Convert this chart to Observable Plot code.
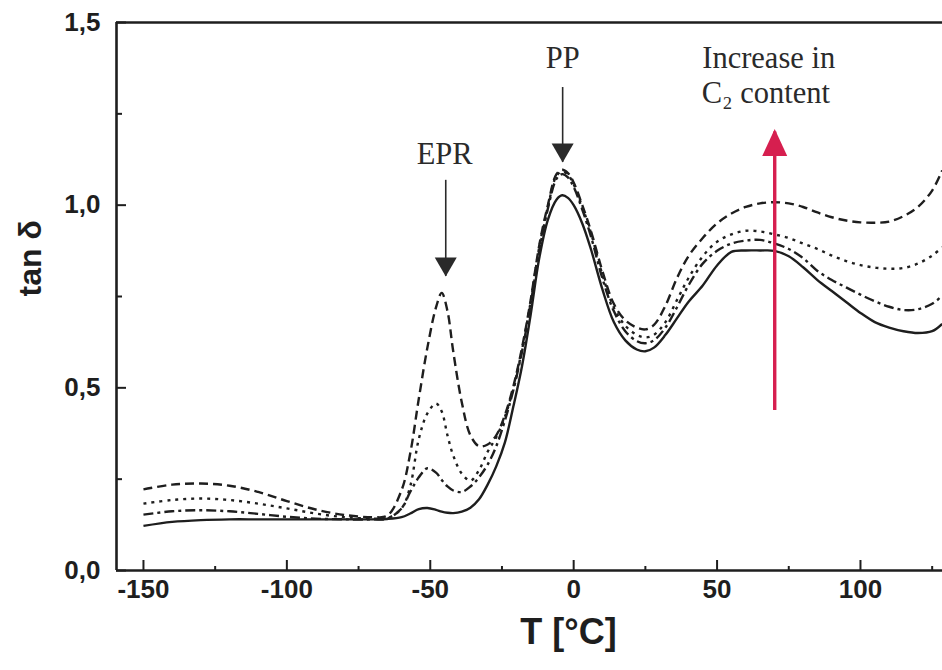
<!DOCTYPE html>
<html>
<head>
<meta charset="utf-8">
<script src="https://cdn.jsdelivr.net/npm/d3@7"></script>
<script src="https://cdn.jsdelivr.net/npm/@observablehq/plot@0.6"></script>
<style>
  html, body { margin: 0; padding: 0; background: #fff; }
  #chart svg { display: block; }
</style>
</head>
<body>
<div id="chart"></div>
<script>
// Temperature grid (°C)
const temps = [-150,-140,-130,-120,-110,-100,-90,-80,-70,-65,-60,-57,-54,-51,-48,-46,-44,-42,-39,-36,-33,-30,-27,-24,-21,-18,-15,-12,-9,-6,-4,-2,0,3,6,10,14,18,22,25,28,32,36,40,45,50,55,60,65,70,75,80,85,90,95,100,105,110,115,120,125,128.5];

// tan δ — four samples with increasing C2 content
const tanSolid = [0.122,0.133,0.138,0.140,0.140,0.140,0.140,0.140,0.140,
  0.141,0.146,0.156,0.168,0.171,0.166,0.161,0.158,0.157,0.161,
  0.172,0.195,0.235,0.285,0.35,0.45,0.56,0.70,0.855,0.96,
  1.015,1.027,1.02,1.0,0.95,0.88,0.77,0.68,0.63,0.605,
  0.60,0.61,0.645,0.69,0.735,0.78,0.835,0.872,0.876,0.876,
  0.875,0.86,0.83,0.795,0.765,0.735,0.705,0.68,0.665,0.655,
  0.65,0.655,0.675];
const tanDashDot = [0.153,0.162,0.165,0.162,0.155,0.147,0.142,0.140,0.140,
  0.142,0.17,0.215,0.255,0.28,0.268,0.248,0.23,0.219,0.215,
  0.23,0.255,0.29,0.34,0.41,0.495,0.60,0.73,0.875,0.99,
  1.072,1.085,1.076,1.05,0.988,0.915,0.80,0.71,0.655,0.628,
  0.622,0.63,0.665,0.72,0.78,0.84,0.875,0.895,0.903,0.905,
  0.895,0.88,0.855,0.82,0.795,0.775,0.755,0.737,0.722,0.713,
  0.715,0.73,0.752];
const tanDotted = [0.183,0.193,0.197,0.193,0.183,0.17,0.156,0.146,0.142,
  0.143,0.17,0.23,0.36,0.43,0.457,0.435,0.37,0.315,0.265,
  0.246,0.275,0.325,0.365,0.42,0.50,0.605,0.735,0.885,0.995,
  1.08,1.092,1.083,1.057,0.995,0.925,0.81,0.72,0.67,0.645,
  0.638,0.645,0.68,0.74,0.80,0.86,0.90,0.92,0.93,0.928,
  0.92,0.91,0.895,0.88,0.862,0.847,0.836,0.829,0.826,0.828,
  0.84,0.862,0.885];
const tanDashed = [0.222,0.235,0.238,0.232,0.215,0.19,0.167,0.152,0.146,
  0.15,0.22,0.32,0.47,0.61,0.72,0.76,0.71,0.60,0.46,
  0.37,0.34,0.345,0.37,0.425,0.505,0.61,0.74,0.89,1.0,
  1.085,1.097,1.088,1.062,1.0,0.93,0.82,0.73,0.685,0.665,
  0.66,0.672,0.725,0.80,0.86,0.91,0.95,0.977,0.995,1.005,
  1.008,1.005,0.995,0.98,0.967,0.958,0.953,0.952,0.955,0.97,
  0.995,1.04,1.095];

// Axis ticks
const xDomain = [-159.4, 128.6];
const yDomain = [0, 1.5];
const xMajor = [-150, -100, -50, 0, 50, 100];
const xMinor = [-125, -75, -25, 25, 75, 125];
const yMajor = [0, 0.5, 1.0, 1.5];
const yMinor = [0.25, 0.75, 1.25];

// Annotations (data coordinates)
const labels = [
  {text: "EPR", T: -45, v: 1.14},
  {text: "PP", T: -3.8, v: 1.402},
  {text: "Increase in", T: 68, v: 1.402},
  {text: "C\u2082 content", T: 67, v: 1.307}
];
const blackArrows = [
  {T: -44.6, v1: 1.068, v2: 0.805},
  {T: -3.84, v1: 1.322, v2: 1.117}
];
const redArrow = [{T: 70.1, v1: 0.438, v2: 1.20}];

const series = [
  {name: "solid", values: tanSolid, dash: null},
  {name: "dashdot", values: tanDashDot, dash: "10,4,3,4"},
  {name: "dotted", values: tanDotted, dash: "3,5"},
  {name: "dashed", values: tanDashed, dash: "9,5"}
];

const ink = "#1e1e1e";
const red = "#d61f4f";

function headSymbol(w, h, dir) {
  return {
    draw(ctx) {
      const s = dir === "down" ? -1 : 1;
      ctx.moveTo(0, 0);
      ctx.lineTo(-w / 2, s * h);
      ctx.lineTo(w / 2, s * h);
      ctx.closePath();
    }
  };
}

const lineMarks = series.map(s => Plot.line(
  temps.map((T, i) => ({T, v: s.values[i]})),
  {x: "T", y: "v", stroke: ink, strokeWidth: 2.4, strokeDasharray: s.dash,
   curve: "catmull-rom", strokeLinecap: "butt"}
));

const chart = Plot.plot({
  width: 942,
  height: 670,
  marginLeft: 116,
  marginRight: 0,
  marginTop: 22,
  marginBottom: 100,
  x: {domain: xDomain},
  y: {domain: yDomain},
  style: {background: "#fff", fontFamily: "'Liberation Sans', Arial, sans-serif", overflow: "visible"},
  marks: [
    Plot.axisX({ticks: xMajor, tickSize: 0, tickPadding: 9, tickFormat: d => String(d),
      fontSize: 26, fontWeight: "bold", fill: ink, label: null}),
    Plot.axisY({ticks: yMajor, tickSize: 0, tickPadding: 16,
      tickFormat: d => d.toFixed(1).replace(".", ","),
      fontSize: 26, fontWeight: "bold", fill: ink, label: null}),
    // inward ticks
    Plot.tickX(xMajor, {x: d => d, insetTop: 538, stroke: ink, strokeWidth: 2}),
    Plot.tickX(xMinor, {x: d => d, insetTop: 544, stroke: ink, strokeWidth: 2}),
    Plot.tickY(yMajor, {y: d => d, insetRight: 816, stroke: ink, strokeWidth: 2}),
    Plot.tickY(yMinor, {y: d => d, insetRight: 820, stroke: ink, strokeWidth: 2}),
    // frame (left, top, bottom)
    Plot.ruleY(yDomain, {stroke: ink, strokeWidth: 2.6}),
    Plot.ruleX([xDomain[0]], {stroke: ink, strokeWidth: 2.6}),
    ...lineMarks,
    // axis titles
    Plot.text(["tan \u03b4"], {frameAnchor: "left", dx: -86, rotate: -90,
      fontSize: 32, fontWeight: "bold", fill: ink}),
    Plot.text(["T [\u00b0C]"], {frameAnchor: "bottom", dx: 39, dy: 73,
      fontSize: 36, fontWeight: "bold", fill: ink}),
    // annotations
    Plot.text(labels, {x: "T", y: "v", text: "text", fontSize: 30.5,
      fontFamily: "'Liberation Serif', 'Times New Roman', serif", fill: "#2a2a2a"}),
    Plot.ruleX(blackArrows, {x: "T", y1: "v1", y2: "v2", stroke: "#2a2a2a", strokeWidth: 1.6}),
    Plot.dot(blackArrows, {x: "T", y: "v2", r: 5, symbol: headSymbol(22, 19, "down"),
      fill: "#2a2a2a", stroke: "none"}),
    Plot.ruleX(redArrow, {x: "T", y1: "v1", y2: "v2", stroke: red, strokeWidth: 3.4}),
    Plot.dot(redArrow, {x: "T", y: "v2", dy: -3, r: 5, symbol: headSymbol(25, 27, "up"),
      fill: red, stroke: "none"})
  ]
});

document.getElementById("chart").appendChild(chart);
</script>
</body>
</html>
